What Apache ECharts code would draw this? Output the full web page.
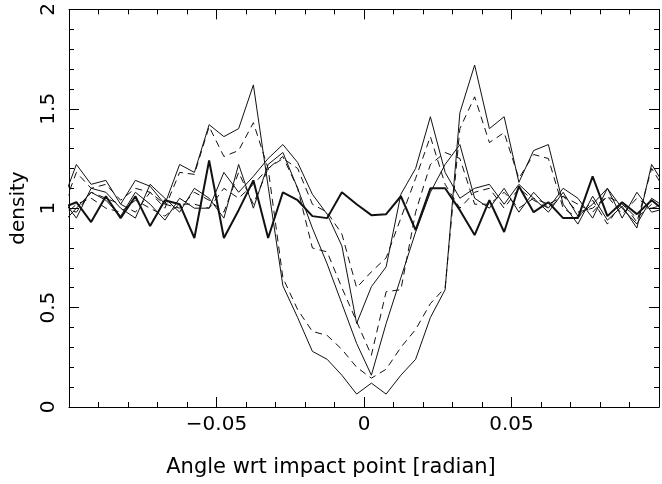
<!DOCTYPE html>
<html>
<head>
<meta charset="utf-8">
<script src="https://cdn.jsdelivr.net/npm/echarts@6/dist/echarts.min.js"></script>
<style>html,body{margin:0;padding:0;background:#fff}#c{width:662px;height:484px}</style>
</head>
<body>
<div id="c"></div>
<script>
// bin centres (angle, radian); end points lie just outside the axis and are clipped
var angles = [-0.1025,-0.0975,-0.0925,-0.0875,-0.0825,-0.0775,-0.0725,-0.0675,-0.0625,-0.0575,
  -0.0525,-0.0475,-0.0425,-0.0375,-0.0325,-0.0275,-0.0225,-0.0175,-0.0125,-0.0075,
  -0.0025,0.0025,0.0075,0.0125,0.0175,0.0225,0.0275,0.0325,0.0375,0.0425,
  0.0475,0.0525,0.0575,0.0625,0.0675,0.0725,0.0775,0.0825,0.0875,0.0925,0.0975,0.1025];

var thickSolid = [1.0,1.03,0.93,1.06,0.95,1.06,0.91,1.04,1.02,0.85,1.24,0.85,0.99,1.14,0.85,1.08,1.04,0.96,0.95,1.08,1.02,0.965,0.97,1.06,0.89,1.10,1.10,0.99,0.865,1.04,0.88,1.11,0.98,1.03,0.95,0.95,1.16,0.96,1.03,0.97,1.04,0.98];
var wideSolid = [1.02,1.22,1.12,1.14,1.02,1.14,1.11,1.02,1.22,1.18,1.42,1.36,1.40,1.62,1.11,0.61,0.45,0.28,0.24,0.16,0.065,0.12,0.065,0.16,0.24,0.45,0.59,1.48,1.72,1.40,1.46,1.13,1.29,1.32,1.02,0.92,1.06,0.94,1.01,0.90,1.22,1.10];
var wideDashed = [0.98,1.18,1.10,1.12,1.04,1.10,1.08,1.0,1.18,1.17,1.41,1.26,1.29,1.43,1.20,0.65,0.49,0.38,0.36,0.29,0.20,0.145,0.19,0.30,0.39,0.52,0.60,1.40,1.56,1.33,1.38,1.15,1.27,1.25,1.0,0.95,1.04,0.92,1.03,0.93,1.20,1.08];
var narrowSolid = [0.92,1.0,1.08,1.04,0.96,1.08,1.02,0.94,1.05,1.0,1.0,1.18,1.08,1.16,1.25,1.32,1.23,1.07,0.97,0.81,0.42,0.605,0.705,1.07,1.2,1.46,1.18,1.05,1.1,1.12,1.02,1.12,1.05,0.98,1.08,0.96,1.02,1.1,0.95,1.08,0.98,1.0];
var narrowDashed = [0.95,1.02,1.05,1.0,0.98,1.04,1.0,0.96,1.02,1.02,1.0,1.1,1.05,1.12,1.2,1.25,1.2,1.02,0.98,0.87,0.6,0.68,0.75,0.95,1.15,1.36,1.12,1.0,1.08,1.1,1.0,1.1,1.04,1.0,1.06,0.98,1.0,1.06,0.97,1.05,1.0,1.02];
var midSolid = [1.05,0.95,1.1,1.08,1.0,0.95,1.12,1.05,0.98,1.1,1.05,0.95,1.22,1.0,1.22,1.28,1.1,0.9,0.72,0.52,0.32,0.16,0.42,0.65,0.88,1.08,1.22,1.32,1.05,1.0,1.1,0.98,1.08,1.0,1.1,1.05,0.95,1.1,1.0,0.92,1.05,1.0];
var midDashed = [1.0,0.98,1.08,1.05,1.02,0.98,1.08,1.02,1.0,1.08,1.04,0.98,1.18,1.02,1.2,1.26,1.1,0.8,0.78,0.6,0.43,0.26,0.58,0.59,0.98,1.22,1.28,1.25,1.02,1.02,1.08,1.0,1.05,1.02,1.06,1.02,0.98,1.06,1.02,0.95,1.02,1.0];

var xTicks = {min:-0.1, max:0.1, step:0.05};
var yTicks = {min:0, max:2, step:0.5};

function pairs(vals){ return angles.map(function(a,i){ return [a, vals[i]]; }); }
function line(vals, dashed, width){
  return {type:'line', data:pairs(vals), symbol:'none', clip:true, silent:true,
    lineStyle:{color:'#111', width:width, type: dashed ? [7,5] : 'solid'}};
}
var FONT = 'DejaVu Sans';
function fmtX(v){
  if (Math.abs(v) < 1e-9) return '0';
  if (Math.abs(Math.abs(v) - 0.1) < 1e-9) return '';
  return (v < 0 ? '\u2212' : '') + Math.abs(v).toFixed(2);
}
function fmtY(v){ return String(Math.round(v*10)/10); }
function ticks(){
  return {
    axisLine:{show:true, onZero:false, lineStyle:{color:'#000', width:1}},
    axisTick:{show:true, inside:true, length:10, lineStyle:{color:'#000', width:1}},
    minorTick:{show:true, splitNumber:5, length:5, lineStyle:{color:'#000', width:1}},
    splitLine:{show:false}, minorSplitLine:{show:false}
  };
}
function xAxis(pos, labels){
  return Object.assign({type:'value', position:pos, min:xTicks.min, max:xTicks.max, interval:xTicks.step,
    axisLabel:{show:labels, formatter:fmtX, fontFamily:FONT, fontSize:20, color:'#000', margin:8}}, ticks());
}
function yAxis(pos, labels){
  return Object.assign({type:'value', position:pos, min:yTicks.min, max:yTicks.max, interval:yTicks.step,
    axisLabel:{show:labels, formatter:fmtY, rotate:90, fontFamily:FONT, fontSize:20, color:'#000', margin:10}}, ticks());
}
var chart = echarts.init(document.getElementById('c'));
chart.setOption({
  animation:false,
  backgroundColor:'#fff',
  grid:{left:69, right:1, top:9, bottom:77, containLabel:false},
  xAxis:[xAxis('bottom', true), xAxis('top', false)],
  yAxis:[yAxis('left', true), yAxis('right', false)],
  graphic:[
    {type:'text', left:'center', top:457, style:{text:'Angle wrt impact point [radian]', font:'21px "DejaVu Sans"', fill:'#000'}, z:10},
    {type:'text', x:19, y:208, rotation:Math.PI/2, style:{text:'density', font:'20px "DejaVu Sans"', fill:'#000', align:'center', verticalAlign:'middle'}, z:10}
  ],
  series:[
    line(wideSolid,false,1), line(wideDashed,true,1),
    line(midSolid,false,1), line(midDashed,true,1),
    line(narrowSolid,false,1), line(narrowDashed,true,1),
    line(thickSolid,false,2)
  ]
});
</script>
</body>
</html>
